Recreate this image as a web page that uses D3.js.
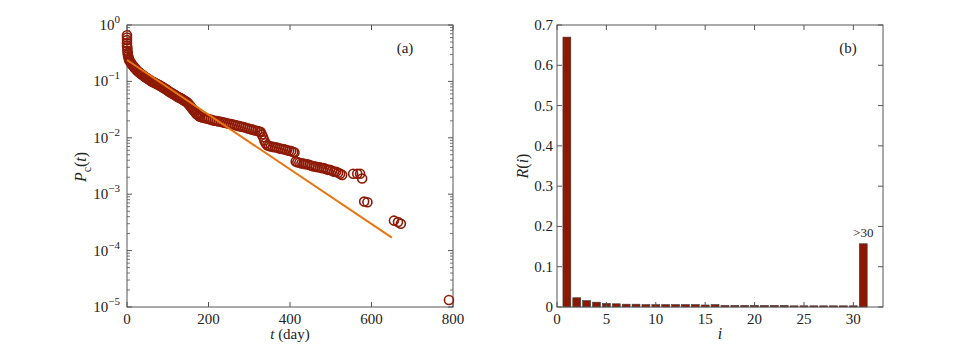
<!DOCTYPE html>
<html>
<head>
<meta charset="utf-8">
<script src="https://cdn.jsdelivr.net/npm/d3@7"></script>
<style>
  body { margin: 0; background: #fff; }
  text { font-family: "Liberation Serif", "DejaVu Serif", serif; fill: #222; }
</style>
</head>
<body>
<div id="chart"></div>
<script>
// panel (a): survival data P_c(t)
var tDays = [0, 0, 0, 0, 0, 1, 1, 2, 2, 3, 4, 5, 6, 8, 10, 12, 14, 16, 18, 20, 22, 25,
    27, 30, 32, 35, 37, 40, 42, 45, 47, 50, 52, 55, 57, 60, 62, 65, 67, 70, 72, 75,
    77, 80, 82, 85, 87, 90, 92, 95, 97, 100, 102, 105, 107, 110, 112, 115, 117, 120,
    122, 125, 127, 130, 132, 135, 137, 140, 142, 145, 147, 150, 152, 155, 157, 160,
    162, 165, 167, 170, 172, 175, 177,
    180, 185, 190, 195, 200, 205, 210, 215, 220, 225, 230, 235, 240, 245, 250, 255,
    260, 265, 270, 275, 280, 285, 290, 295, 300, 305, 310, 315, 320, 325, 328,
    331, 334, 337, 340, 344, 348, 353, 358, 363, 368, 373, 378, 383, 388, 393, 398,
    403, 408, 411,
    414, 418, 423, 428, 433, 438, 443, 448, 453, 458, 463, 468, 473, 478, 483, 488,
    493, 498, 503, 508, 513, 518, 523, 528,
    555, 565, 572, 577, 582, 590, 655, 665, 672, 790];
var pc = [0.66, 0.60, 0.54, 0.48, 0.43, 0.39, 0.35, 0.32, 0.30, 0.28, 0.26, 0.245, 0.235,
    0.222, 0.211, 0.20, 0.192, 0.185, 0.177, 0.17, 0.164, 0.155, 0.15, 0.145, 0.14,
    0.135, 0.131, 0.127, 0.123, 0.12, 0.116, 0.113, 0.110, 0.107, 0.104, 0.101, 0.099,
    0.097, 0.095, 0.093, 0.091, 0.089, 0.087, 0.085, 0.083, 0.081, 0.079, 0.077, 0.075,
    0.073, 0.071, 0.069, 0.067, 0.065, 0.0635, 0.062, 0.0605, 0.059, 0.0575, 0.056,
    0.0545, 0.053, 0.052, 0.051, 0.050, 0.049, 0.0475, 0.046, 0.045, 0.044, 0.0425,
    0.041, 0.039, 0.037, 0.035, 0.033, 0.0315, 0.030, 0.0285, 0.027, 0.026, 0.025,
    0.024,
    0.0235, 0.023, 0.0225, 0.022, 0.0215, 0.021, 0.0205, 0.0201, 0.0198, 0.0195, 0.0192,
    0.0188, 0.0185, 0.0181, 0.0178, 0.0175, 0.0172, 0.0168, 0.0165, 0.0161, 0.0158,
    0.0155, 0.0152, 0.0148, 0.0145, 0.0141, 0.0138, 0.0135, 0.0132, 0.0129, 0.0127,
    0.0115, 0.0102, 0.009, 0.008, 0.0074, 0.0072, 0.0070, 0.0069, 0.0068, 0.0067,
    0.0065, 0.0064, 0.0063, 0.0062, 0.0060, 0.0059, 0.0058, 0.0056, 0.0055,
    0.0038, 0.0037, 0.0036, 0.0035, 0.0035, 0.0034, 0.0034, 0.0033, 0.0032, 0.0031,
    0.0031, 0.0030, 0.0030, 0.0029, 0.0029, 0.0028, 0.0027, 0.0027, 0.0026, 0.0025,
    0.0025, 0.0024, 0.0023, 0.0022,
    0.0023, 0.0023, 0.0023, 0.0019, 0.00074, 0.00072, 0.00034, 0.00032, 0.00030, 0.0000133];
// fitted line end points
var fitT = [0, 650];
var fitP = [0.24, 0.00017];

// panel (b): R(i)
var iVals = [1, 2, 3, 4, 5, 6, 7, 8, 9, 10, 11, 12, 13, 14, 15, 16, 17, 18, 19, 20,
    21, 22, 23, 24, 25, 26, 27, 28, 29, 30, 31];
var rVals = [0.670, 0.023, 0.016, 0.012, 0.009, 0.008, 0.007, 0.007, 0.006, 0.006,
    0.006, 0.006, 0.006, 0.006, 0.005, 0.006, 0.004, 0.004, 0.004, 0.004, 0.004,
    0.004, 0.004, 0.003, 0.003, 0.003, 0.003, 0.003, 0.003, 0.003, 0.157];
var xTicksA = [0, 200, 400, 600, 800];
var yTicksA = [1, 1e-1, 1e-2, 1e-3, 1e-4, 1e-5];
var xTicksB = [0, 5, 10, 15, 20, 25, 30];
var yTicksB = [0, 0.1, 0.2, 0.3, 0.4, 0.5, 0.6, 0.7];

var W = 976, H = 346;
var red = '#8e1a06', orange = '#e8750f', axisCol = '#555';

var svg = d3.select('#chart').append('svg')
    .attr('width', W)
    .attr('height', H);

var yTop = 25, yBot = 307;

function frame(g, x0, x1) {
    g.append('rect')
        .attr('x', x0).attr('y', yTop)
        .attr('width', x1 - x0).attr('height', yBot - yTop)
        .attr('fill', 'none')
        .attr('stroke', axisCol)
        .attr('stroke-width', 1);
}

// ---------- panel (a) ----------
var ax0 = 127, ax1 = 453;
var xA = d3.scaleLinear().domain([0, 800]).range([ax0, ax1]);
var yA = d3.scaleLog().domain([1e-5, 1]).range([yBot, yTop]);
var gA = svg.append('g');

frame(gA, ax0, ax1);

// minor log ticks
var minor = [];
for (var e = -5; e < 0; e++) {
    for (var m = 2; m <= 9; m++) minor.push(m * Math.pow(10, e));
}
gA.selectAll('.minl').data(minor).enter().append('line')
    .attr('x1', ax0).attr('x2', ax0 + 3)
    .attr('y1', function (d) { return yA(d); })
    .attr('y2', function (d) { return yA(d); })
    .attr('stroke', axisCol).attr('stroke-width', 0.8);
gA.selectAll('.minr').data(minor).enter().append('line')
    .attr('x1', ax1).attr('x2', ax1 - 3)
    .attr('y1', function (d) { return yA(d); })
    .attr('y2', function (d) { return yA(d); })
    .attr('stroke', axisCol).attr('stroke-width', 0.8);
// major y ticks
gA.selectAll('.majl').data(yTicksA).enter().append('line')
    .attr('x1', ax0).attr('x2', ax0 + 5)
    .attr('y1', function (d) { return yA(d); })
    .attr('y2', function (d) { return yA(d); })
    .attr('stroke', axisCol);
gA.selectAll('.majr').data(yTicksA).enter().append('line')
    .attr('x1', ax1).attr('x2', ax1 - 5)
    .attr('y1', function (d) { return yA(d); })
    .attr('y2', function (d) { return yA(d); })
    .attr('stroke', axisCol);
// x ticks
gA.selectAll('.xb').data(xTicksA).enter().append('line')
    .attr('x1', function (d) { return xA(d); })
    .attr('x2', function (d) { return xA(d); })
    .attr('y1', yBot).attr('y2', yBot - 5)
    .attr('stroke', axisCol);
gA.selectAll('.xt').data(xTicksA).enter().append('line')
    .attr('x1', function (d) { return xA(d); })
    .attr('x2', function (d) { return xA(d); })
    .attr('y1', yTop).attr('y2', yTop + 5)
    .attr('stroke', axisCol);

gA.selectAll('.xl').data(xTicksA).enter().append('text')
    .attr('x', function (d) { return xA(d); })
    .attr('y', yBot + 17)
    .attr('text-anchor', 'middle')
    .style('font-size', '15px')
    .text(function (d) { return d; });

var ylab = gA.selectAll('.yl').data(yTicksA).enter().append('text')
    .attr('x', 120)
    .attr('y', function (d) { return yA(d) + 5; })
    .attr('text-anchor', 'end')
    .style('font-size', '15px');
ylab.append('tspan').text('10');
ylab.append('tspan')
    .attr('dy', -7)
    .style('font-size', '11px')
    .text(function (d) {
        var p = Math.round(Math.log10(d));
        return p === 0 ? '0' : '\u2212' + (-p);
    });

// data circles
var pts = tDays.map(function (t, i) { return { t: t, p: pc[i] }; });
gA.selectAll('.pt').data(pts).enter().append('circle')
    .attr('cx', function (d) { return xA(d.t); })
    .attr('cy', function (d) { return yA(d.p); })
    .attr('r', 4.5)
    .attr('fill', 'none')
    .attr('stroke', red)
    .attr('stroke-width', 1.6);

// fitted line
gA.append('line')
    .attr('x1', xA(fitT[0])).attr('y1', yA(fitP[0]))
    .attr('x2', xA(fitT[1])).attr('y2', yA(fitP[1]))
    .attr('stroke', orange).attr('stroke-width', 2);

gA.append('text')
    .attr('x', 405).attr('y', 53)
    .attr('text-anchor', 'middle')
    .style('font-size', '15px')
    .text('(a)');

var xlabA = gA.append('text')
    .attr('x', xA(400)).attr('y', 339)
    .attr('text-anchor', 'middle')
    .style('font-size', '15px');
xlabA.append('tspan').style('font-style', 'italic').text('t');
xlabA.append('tspan').text(' (day)');

var ylabA = gA.append('text')
    .attr('transform', 'translate(86,167) rotate(-90)')
    .attr('text-anchor', 'middle')
    .style('font-size', '16px');
ylabA.append('tspan').style('font-style', 'italic').text('P');
ylabA.append('tspan').attr('dy', 5).style('font-size', '12px').text('c');
ylabA.append('tspan').attr('dy', -5).text('(');
ylabA.append('tspan').style('font-style', 'italic').text('t');
ylabA.append('tspan').text(')');

// ---------- panel (b) ----------
var bx0 = 557, bx1 = 883;
var xB = d3.scaleLinear().domain([0, 33]).range([bx0, bx1]);
var yB = d3.scaleLinear().domain([0, 0.7]).range([yBot, yTop]);
var gB = svg.append('g');

var bw = (xB(1) - xB(0)) * 0.8;
gB.selectAll('.bar').data(iVals).enter().append('rect')
    .attr('x', function (d) { return xB(d) - bw / 2; })
    .attr('y', function (d, i) { return yB(rVals[i]); })
    .attr('width', bw)
    .attr('height', function (d, i) { return yBot - yB(rVals[i]); })
    .attr('fill', '#8b1800')
    .attr('stroke', '#3d3d3d')
    .attr('stroke-width', 0.6);

frame(gB, bx0, bx1);

gB.selectAll('.ybl').data(yTicksB).enter().append('line')
    .attr('x1', bx0).attr('x2', bx0 + 5)
    .attr('y1', function (d) { return yB(d); })
    .attr('y2', function (d) { return yB(d); })
    .attr('stroke', axisCol);
gB.selectAll('.ybr').data(yTicksB).enter().append('line')
    .attr('x1', bx1).attr('x2', bx1 - 5)
    .attr('y1', function (d) { return yB(d); })
    .attr('y2', function (d) { return yB(d); })
    .attr('stroke', axisCol);
gB.selectAll('.xbb').data(xTicksB).enter().append('line')
    .attr('x1', function (d) { return xB(d); })
    .attr('x2', function (d) { return xB(d); })
    .attr('y1', yBot).attr('y2', yBot - 5)
    .attr('stroke', axisCol);
gB.selectAll('.xbt').data(xTicksB).enter().append('line')
    .attr('x1', function (d) { return xB(d); })
    .attr('x2', function (d) { return xB(d); })
    .attr('y1', yTop).attr('y2', yTop + 5)
    .attr('stroke', axisCol);

gB.selectAll('.xlb').data(xTicksB).enter().append('text')
    .attr('x', function (d) { return xB(d); })
    .attr('y', yBot + 17)
    .attr('text-anchor', 'middle')
    .style('font-size', '15px')
    .text(function (d) { return d; });
gB.selectAll('.ylb').data(yTicksB).enter().append('text')
    .attr('x', bx0 - 4)
    .attr('y', function (d) { return yB(d) + 5; })
    .attr('text-anchor', 'end')
    .style('font-size', '15px')
    .text(function (d) { return d === 0 ? '0' : d3.format('.1f')(d); });

gB.append('text')
    .attr('x', xB(31)).attr('y', yB(rVals[30]) - 7)
    .attr('text-anchor', 'middle')
    .style('font-size', '13px')
    .text('>30');

gB.append('text')
    .attr('x', 848).attr('y', 53)
    .attr('text-anchor', 'middle')
    .style('font-size', '15px')
    .text('(b)');

gB.append('text')
    .attr('x', xB(16.5)).attr('y', 339)
    .attr('text-anchor', 'middle')
    .style('font-size', '16px')
    .style('font-style', 'italic')
    .text('i');

var ylabB = gB.append('text')
    .attr('transform', 'translate(528,166) rotate(-90)')
    .attr('text-anchor', 'middle')
    .style('font-size', '16px');
ylabB.append('tspan').style('font-style', 'italic').text('R');
ylabB.append('tspan').text('(');
ylabB.append('tspan').style('font-style', 'italic').text('i');
ylabB.append('tspan').text(')');
</script>
</body>
</html>
